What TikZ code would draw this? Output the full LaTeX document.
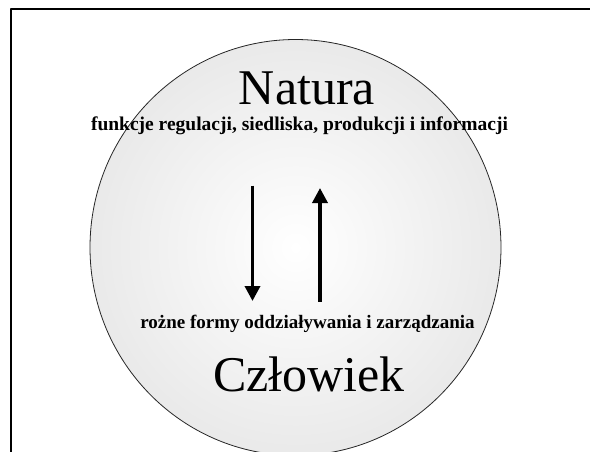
\documentclass[tikz,border=0pt]{standalone}
\usepackage{fontspec}
\setmainfont{Liberation Serif}
\usetikzlibrary{arrows.meta}
\pgfdeclareradialshading{ballshade}{\pgfpoint{0bp}{0bp}}{color(0bp)=(white); color(50bp)=(black!17)}
\tikzset{
	bigtext/.style={font=\fontsize{50}{60}\selectfont, inner sep=0pt, anchor=base},
	smalltext/.style={font=\fontsize{19.5}{23}\selectfont\bfseries, inner sep=0pt, anchor=base},
	flow/.style={line width=3.5pt, -{Triangle[width=15pt,length=15pt]}}
}
\begin{document}
\begin{tikzpicture}[x=1pt, y=-1pt, line join=round]
			\useasboundingbox (0,0) rectangle (590,452);
			\clip (0,0) rectangle (590,452);
			\path 
			(11,460) coordinate (F1)
			(11,8.7) coordinate (F2)
			(598,8.7) coordinate (F3)
			(295.5,247.5) coordinate (O)
			(252.5,185.5) coordinate (A)
			(252.5,301) coordinate (B)
			(320,301.5) coordinate (C)
			(320,188) coordinate (D)
			;
			% ramka
			\draw[line width=2.2pt] (F1)--(F2)--(F3);
			% kula
			\path[shading=ballshade, draw=black!85, line width=0.8pt] (O) ellipse [x radius=205.5, y radius=208];
			\node[bigtext] (natura) at (307,105) {Natura};
			\node[smalltext] (funkcje) at (299.5,131) {funkcje regulacji, siedliska, produkcji i informacji};
			\node[smalltext, font=\fontsize{19}{23}\selectfont\bfseries] (formy) at (307.5,328) {rożne formy oddziaływania i zarządzania};
			\node[bigtext] (czlowiek) at (309,391) {Człowiek};
			\draw[flow] (A)--(B);
			\draw[flow] (C)--(D);
\end{tikzpicture}
\end{document}
